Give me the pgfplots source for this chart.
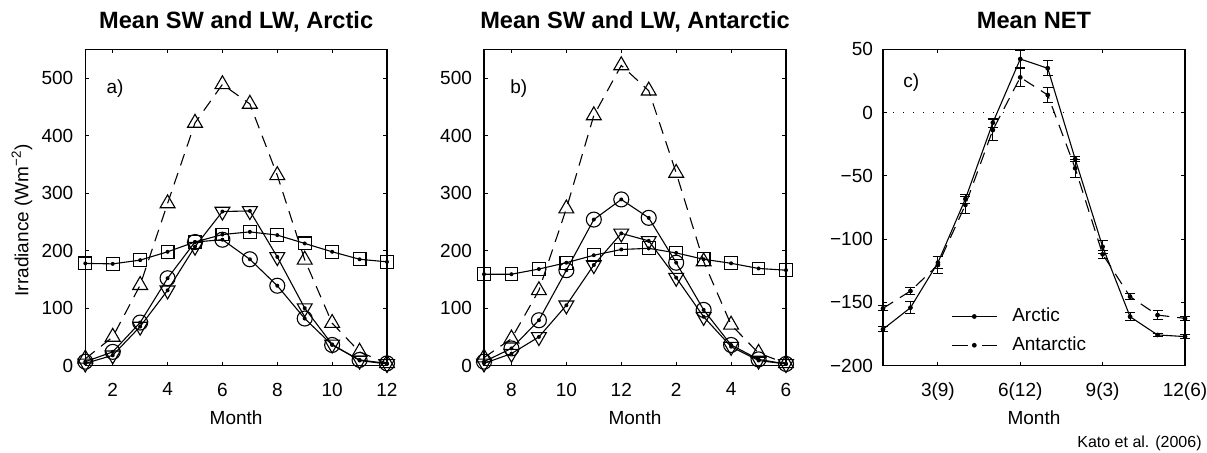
\documentclass[border=0pt]{standalone}
\usepackage{fontspec}
\setmainfont{Liberation Sans}
\usepackage{pgfplots}
\pgfplotsset{compat=1.18}

\pgfdeclareplotmark{cdot}{%
  \pgfpathcircle{\pgfpointorigin}{\pgfplotmarksize}\pgfusepathqstroke
  \pgfpathcircle{\pgfpointorigin}{1pt}\pgfusepathqfill}
\pgfdeclareplotmark{sdot}{%
  \pgfpathrectangle{\pgfpoint{-\pgfplotmarksize}{-\pgfplotmarksize}}{\pgfpoint{2\pgfplotmarksize}{2\pgfplotmarksize}}\pgfusepathqstroke
  \pgfpathcircle{\pgfpointorigin}{1pt}\pgfusepathqfill}
\pgfdeclareplotmark{vdot}{%
  \pgfpathmoveto{\pgfpointpolar{270}{\pgfplotmarksize}}%
  \pgfpathlineto{\pgfpointpolar{30}{\pgfplotmarksize}}%
  \pgfpathlineto{\pgfpointpolar{150}{\pgfplotmarksize}}%
  \pgfpathclose\pgfusepathqstroke
  \pgfpathcircle{\pgfpointorigin}{1pt}\pgfusepathqfill}
\pgfdeclareplotmark{bigdot}{%
  \pgfpathcircle{\pgfpointorigin}{\pgfplotmarksize}\pgfusepathqfill}

\newcommand{\tickfont}{\fontsize{9.5}{11}\selectfont}

\pgfplotsset{
  base/.style={
    scale only axis,
    width=151pt, height=158.2pt,
    anchor=south west,
    clip=false,
    axis line style={line width=0.6pt},
    tick align=inside,
    xtick pos=both, ytick pos=both,
    major tick length=2pt,
    minor tick num=0,
    tick style={line width=0.5pt, black},
    tick label style={font=\tickfont},
    /pgf/number format/assume math mode=true,
    xticklabel style={yshift=-5pt},
    yticklabel style={xshift=-2.5pt},
    label style={font=\tickfont},
    xlabel style={at={(axis description cs:0.5,0)}, anchor=base, yshift=-29.6pt},
    title style={font=\bfseries\fontsize{11.8}{13}\selectfont, at={(axis description cs:0.5,1)}, anchor=base, yshift=4.5pt},
    every axis plot/.append style={line width=0.55pt, black},
    xmin=1, xmax=12,
  },
  sw/.style={base, ymin=0, ymax=550, ytick={0,100,200,300,400,500}, xtick={2,4,6,8,10,12}},
  sq/.style={mark=sdot, mark size=3.2pt},
  ci/.style={mark=cdot, mark size=3.75pt},
  dt/.style={mark=vdot, mark size=4.3pt},
  ut/.style={mark=triangle, mark size=4.3pt, dash pattern=on 6pt off 4pt, mark options={solid}},
}

\begin{document}
\begin{tikzpicture}
\useasboundingbox (0,0) rectangle (603.5pt,226.5pt);

% ---------- Panel a ----------
\begin{axis}[sw, at={(42.65pt,43.65pt)}, width=150.85pt,
  title={Mean SW and LW, Arctic}, xlabel={Month},
  ylabel={Irradiance (Wm\textsuperscript{−2})},
  ylabel style={at={(axis description cs:-0.21,0.46)}, anchor=center, rotate=0}]
\addplot[sq] coordinates {(1,177.8)(2,177)(3,183.5)(4,198)(5,215)(6,228)(7,232.6)(8,227)(9,212.5)(10,198)(11,185)(12,180.5)};
\addplot[ci] coordinates {(1,7)(2,24)(3,75)(4,152)(5,215)(6,219)(7,185)(8,139)(9,82)(10,36)(11,10)(12,4)};
\addplot[dt] coordinates {(1,4)(2,18)(3,68)(4,131)(5,207)(6,268)(7,269)(8,189)(9,100)(10,37)(11,9)(12,3)};
\addplot[ut] coordinates {(1,12)(2,50)(3,140)(4,282)(5,422)(6,489)(7,455)(8,331)(9,184)(10,74)(11,24)(12,4)};
\node[anchor=base west, inner sep=0, font=\tickfont] at (rel axis cs:0.069,0.859) {a)};
\end{axis}

% ---------- Panel b ----------
\begin{axis}[sw, at={(242pt,43.65pt)},
  title={Mean SW and LW, Antarctic}, xlabel={Month},
  xticklabels={8,10,12,2,4,6}]
\addplot[sq] coordinates {(1,159)(2,159)(3,168)(4,179)(5,192)(6,202)(7,204)(8,196)(9,185)(10,178)(11,169)(12,166)};
\addplot[ci] coordinates {(1,7)(2,30)(3,79)(4,166)(5,254)(6,289)(7,257)(8,179)(9,97)(10,36)(11,11)(12,3)};
\addplot[dt] coordinates {(1,4)(2,21)(3,50)(4,105)(5,175)(6,230)(7,217)(8,153)(9,85)(10,33)(11,9)(12,3)};
\addplot[ut] coordinates {(1,14)(2,47)(3,131)(4,273)(5,435)(6,522)(7,478)(8,335)(9,181)(10,71)(11,22)(12,4)};
\node[anchor=base west, inner sep=0, font=\tickfont] at (rel axis cs:0.086,0.859) {b)};
\end{axis}

% ---------- Panel c ----------
\begin{axis}[base, at={(441.5pt,43.65pt)},
  title={Mean NET}, xlabel={Month},
  ymin=-200, ymax=50, ytick={-200,-150,-100,-50,0,50},
  yticklabels={−200,−150,−100,−50,0,50},
  yticklabel style={xshift=1pt},
  xtick={3,6,9,12}, xticklabels={3(9),6(12),9(3),12(6)},
  legend style={draw=none, fill=none, at={(axis description cs:0.225,0.11)}, anchor=west,
    font=\tickfont, inner sep=0pt, row sep=2pt, column sep=5.5pt, nodes={inner sep=2pt}},
  legend cell align=left,
  legend image code/.code={\draw[mark repeat=2,mark phase=2,#1] plot coordinates {(0pt,0pt) (11.2pt,0pt) (22.4pt,0pt)};},
  error bars/error bar style={line width=0.5pt, solid},
  error bars/error mark options={rotate=90, mark size=2.5pt, line width=0.5pt, solid}]
\addplot[densely dotted, dash pattern=on 0.6pt off 4.4pt, forget plot] coordinates {(1,0)(12,0)};
\addplot[mark=bigdot, mark size=1.2pt,
  error bars/.cd, y dir=both, y explicit] coordinates {
  (1,-171.2) +- (0,2)
  (2,-154.2) +- (0,4.6)
  (3,-118.6) +- (0,5)
  (4,-68.3) +- (0,3.7)
  (5,-8) +- (0,3.5)
  (6,42.3) +- (0,6.6)
  (7,35) +- (0,6)
  (8,-36.7) +- (0,2)
  (9,-106) +- (0,5)
  (10,-161.3) +- (0,3)
  (11,-175.7) +- (0,1.5)
  (12,-177) +- (0,1.5)};
\addlegendentry{Arctic}
\addplot[mark=bigdot, mark size=1.2pt, dash pattern=on 6pt off 4pt, mark options={solid},
  legend image post style={dash pattern=on 8pt off 7pt},
  error bars/.cd, y dir=both, y explicit] coordinates {
  (1,-154.7) +- (0,2)
  (2,-141) +- (0,2.6)
  (3,-120.4) +- (0,7)
  (4,-73) +- (0,7)
  (5,-13.8) +- (0,8)
  (6,27.8) +- (0,7)
  (7,13.9) +- (0,5.9)
  (8,-44) +- (0,7)
  (9,-112) +- (0,3)
  (10,-145.5) +- (0,2.4)
  (11,-160) +- (0,3.6)
  (12,-162.6) +- (0,1.5)};
\addlegendentry{Antarctic}
\node[anchor=base west, inner sep=0, font=\tickfont] at (rel axis cs:0.066,0.88) {c)};
\end{axis}

\node[anchor=base east, inner sep=0, font=\fontsize{8}{9}\selectfont] at (601pt,2.5pt) {Kato et al. (2006)};
\end{tikzpicture}
\end{document}
